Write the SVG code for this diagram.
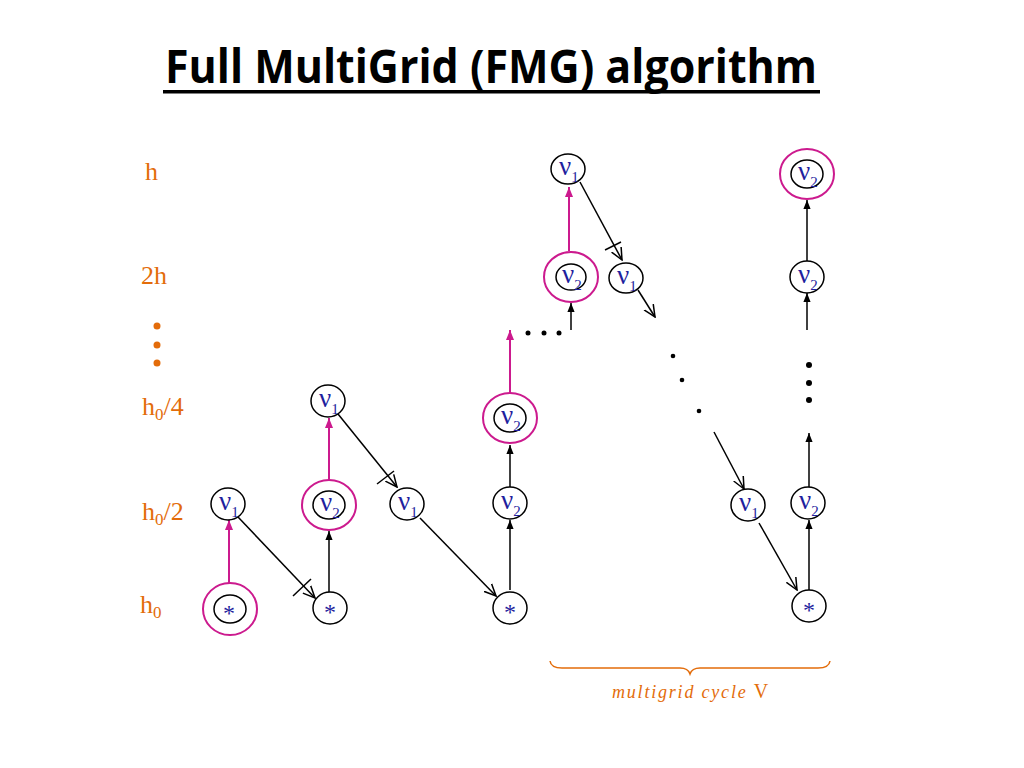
<svg xmlns="http://www.w3.org/2000/svg" width="1024" height="768" viewBox="0 0 1024 768">
<defs>
<style>
.title{font-family:"Open Sans","Liberation Sans",sans-serif;font-weight:bold;font-size:46px;fill:#000}
.lvl{font-family:"Liberation Serif","Times New Roman",serif;font-size:26px;fill:#E36C0A}
.sub0{font-size:17px}
.nu{font-family:"Liberation Serif","Times New Roman",serif;font-size:27px;fill:#1F1F9E}
.ns{font-size:15px}
.star{font-family:"Liberation Serif","Times New Roman",serif;font-size:24px;fill:#1F1F9E}
.node{fill:none;stroke:#000;stroke-width:1.5}
.ring{fill:none;stroke:#CC1A8E;stroke-width:2}
.blk{stroke:#000;stroke-width:1.5;fill:none}
.pnk{stroke:#CC1A8E;stroke-width:2;fill:none}
.dot{fill:#000}
.odot{fill:#E36C0A}
.cyc{font-family:"Liberation Serif","Times New Roman",serif;font-size:18px;font-style:italic;fill:#E36C0A;letter-spacing:1.8px}
</style>
<marker id="ab" viewBox="0 0 10 10" refX="10" refY="5" markerWidth="9" markerHeight="9" markerUnits="userSpaceOnUse" orient="auto"><path d="M0,1 L10,5 L0,9 Z" fill="#000"/></marker>
<marker id="ap" viewBox="0 0 10 10" refX="10" refY="5" markerWidth="10" markerHeight="10" markerUnits="userSpaceOnUse" orient="auto"><path d="M0,1 L10,5 L0,9 Z" fill="#CC1A8E"/></marker>
<marker id="ao" viewBox="0 0 12 12" refX="11" refY="6" markerWidth="13" markerHeight="13" markerUnits="userSpaceOnUse" orient="auto"><path d="M0,1 L11,6 L0,11" fill="none" stroke="#000" stroke-width="1.4"/></marker>
</defs>
<rect width="1024" height="768" fill="#fff"/>

<g id="title">
<text class="title" x="165" y="83" textLength="652" lengthAdjust="spacingAndGlyphs">Full MultiGrid (FMG) algorithm</text>
<rect x="163" y="90" width="657" height="3.5" fill="#000"/>
</g>

<g id="levels">
<text class="lvl" x="145" y="180">h</text>
<text class="lvl" x="141" y="284">2h</text>
<circle class="odot" cx="157" cy="326" r="3.5"/>
<circle class="odot" cx="157" cy="345" r="3.5"/>
<circle class="odot" cx="157" cy="363" r="3.5"/>
<text class="lvl" x="142" y="415">h<tspan class="sub0" dy="5">0</tspan><tspan dy="-5">/4</tspan></text>
<text class="lvl" x="142" y="520">h<tspan class="sub0" dy="5">0</tspan><tspan dy="-5">/2</tspan></text>
<text class="lvl" x="140" y="613">h<tspan class="sub0" dy="5">0</tspan></text>
</g>

<g id="connectors">
<line class="pnk" x1="229" y1="583" x2="229" y2="520" marker-end="url(#ap)"/>
<line class="pnk" x1="329" y1="480" x2="329" y2="418" marker-end="url(#ap)"/>
<line class="pnk" x1="510" y1="393" x2="510" y2="330" marker-end="url(#ap)"/>
<line class="pnk" x1="569" y1="251" x2="569" y2="187" marker-end="url(#ap)"/>

<line class="blk" x1="329" y1="592" x2="329" y2="531" marker-end="url(#ab)"/>
<line class="blk" x1="510" y1="590" x2="510" y2="520" marker-end="url(#ab)"/>
<line class="blk" x1="510" y1="487" x2="510" y2="445" marker-end="url(#ab)"/>
<line class="blk" x1="571" y1="330" x2="571" y2="303" marker-end="url(#ab)"/>
<line class="blk" x1="809" y1="590" x2="809" y2="520" marker-end="url(#ab)"/>
<line class="blk" x1="809" y1="487" x2="809" y2="433" marker-end="url(#ab)"/>
<line class="blk" x1="807" y1="330" x2="807" y2="293" marker-end="url(#ab)"/>
<line class="blk" x1="807" y1="261" x2="807" y2="200" marker-end="url(#ab)"/>

<line class="blk" x1="238" y1="517" x2="315" y2="598" marker-end="url(#ao)"/>
<line class="blk" x1="293" y1="596" x2="311" y2="579"/>
<line class="blk" x1="338" y1="414" x2="397" y2="487" marker-end="url(#ao)"/>
<line class="blk" x1="377" y1="484" x2="394" y2="471"/>
<line class="blk" x1="420" y1="518" x2="496" y2="596" marker-end="url(#ao)"/>
<line class="blk" x1="580" y1="182" x2="622" y2="260" marker-end="url(#ao)"/>
<line class="blk" x1="605" y1="250" x2="621" y2="242"/>
<line class="blk" x1="638" y1="290" x2="655" y2="317" marker-end="url(#ao)"/>
<line class="blk" x1="714" y1="432" x2="744" y2="489" marker-end="url(#ao)"/>
<line class="blk" x1="759" y1="523" x2="797" y2="590" marker-end="url(#ao)"/>

<circle class="dot" cx="528" cy="333" r="2.5"/>
<circle class="dot" cx="544" cy="333" r="2.5"/>
<circle class="dot" cx="559" cy="333" r="2.5"/>
<circle class="dot" cx="673" cy="356" r="2.3"/>
<circle class="dot" cx="682" cy="380" r="2.3"/>
<circle class="dot" cx="699" cy="411" r="2.3"/>
<circle class="dot" cx="809" cy="365" r="3"/>
<circle class="dot" cx="809" cy="383" r="3"/>
<circle class="dot" cx="809" cy="400" r="3"/>
</g>

<g id="n-h0-1"><ellipse class="ring" cx="230" cy="609" rx="27" ry="26"/><ellipse class="node" cx="230" cy="609" rx="16" ry="14"/><text class="star" x="229" y="621" text-anchor="middle">*</text></g>
<g id="n-h02-1"><ellipse class="node" cx="228" cy="504" rx="17" ry="16"/><text class="nu" x="219" y="510">ν<tspan class="ns" dx="0" dy="7">1</tspan></text></g>
<g id="n-h0-2"><ellipse class="node" cx="330" cy="608" rx="17" ry="16"/><text class="star" x="330" y="620" text-anchor="middle">*</text></g>
<g id="n-h02-2"><ellipse class="ring" cx="329" cy="505" rx="27" ry="25"/><ellipse class="node" cx="329" cy="505" rx="16" ry="14"/><text class="nu" x="320" y="511">ν<tspan class="ns" dx="0" dy="7">2</tspan></text></g>
<g id="n-h04-2"><ellipse class="node" cx="328" cy="401" rx="17" ry="16"/><text class="nu" x="319" y="407">ν<tspan class="ns" dx="0" dy="7">1</tspan></text></g>
<g id="n-h02-3"><ellipse class="node" cx="407" cy="504" rx="17" ry="16"/><text class="nu" x="398" y="510">ν<tspan class="ns" dx="0" dy="7">1</tspan></text></g>
<g id="n-h0-4"><ellipse class="node" cx="510" cy="608" rx="17" ry="16"/><text class="star" x="510" y="620" text-anchor="middle">*</text></g>
<g id="n-h02-4"><ellipse class="node" cx="510" cy="503" rx="17" ry="16"/><text class="nu" x="501" y="509">ν<tspan class="ns" dx="0" dy="7">2</tspan></text></g>
<g id="n-h04-4"><ellipse class="ring" cx="510" cy="418" rx="27" ry="25"/><ellipse class="node" cx="510" cy="418" rx="16" ry="14"/><text class="nu" x="501" y="424">ν<tspan class="ns" dx="0" dy="7">2</tspan></text></g>
<g id="n-2h-5"><ellipse class="ring" cx="571" cy="277" rx="27" ry="25"/><ellipse class="node" cx="571" cy="277" rx="15" ry="13"/><text class="nu" x="562" y="283">ν<tspan class="ns" dx="0" dy="7">2</tspan></text></g>
<g id="n-h-5"><ellipse class="node" cx="568" cy="169" rx="17" ry="15"/><text class="nu" x="559" y="175">ν<tspan class="ns" dx="0" dy="7">1</tspan></text></g>
<g id="n-2h-6"><ellipse class="node" cx="626" cy="278" rx="17" ry="15"/><text class="nu" x="617" y="284">ν<tspan class="ns" dx="0" dy="7">1</tspan></text></g>
<g id="n-h02-7"><ellipse class="node" cx="748" cy="505" rx="17" ry="16"/><text class="nu" x="739" y="511">ν<tspan class="ns" dx="0" dy="7">1</tspan></text></g>
<g id="n-h0-8"><ellipse class="node" cx="809" cy="606" rx="17" ry="16"/><text class="star" x="809" y="618" text-anchor="middle">*</text></g>
<g id="n-h02-8"><ellipse class="node" cx="808" cy="503" rx="17" ry="16"/><text class="nu" x="799" y="509">ν<tspan class="ns" dx="0" dy="7">2</tspan></text></g>
<g id="n-2h-8"><ellipse class="node" cx="807" cy="277" rx="17" ry="16"/><text class="nu" x="798" y="283">ν<tspan class="ns" dx="0" dy="7">2</tspan></text></g>
<g id="n-h-8"><ellipse class="ring" cx="807" cy="174" rx="27" ry="25"/><ellipse class="node" cx="807" cy="174" rx="16" ry="14"/><text class="nu" x="798" y="180">ν<tspan class="ns" dx="0" dy="7">2</tspan></text></g>

<g id="cycle-brace">
<path d="M550,661 Q551,668 562,668 L680,668 Q688,668 690,674 Q692,668 700,668 L818,668 Q829,668 830,661" fill="none" stroke="#E36C0A" stroke-width="1.5"/>
<text class="cyc" x="612" y="698">multigrid cycle <tspan font-style="normal" font-size="20px" letter-spacing="0">V</tspan></text>
</g>
</svg>
